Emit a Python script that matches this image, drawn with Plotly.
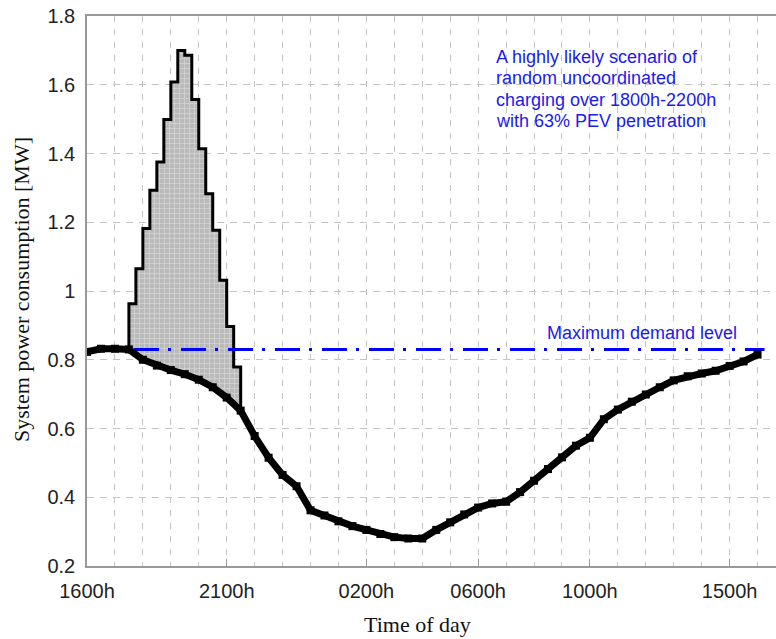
import plotly.graph_objects as go

# ---------------- data ----------------
# base system load (MW) at half-hour steps, 16:00 (=16) to 16:00 next day (=40)
base_time = [16.0, 16.5, 17.0, 17.5, 18.0, 18.5, 19.0, 19.5, 20.0, 20.5, 21.0, 21.5,
             22.0, 22.5, 23.0, 23.5, 24.0, 24.5, 25.0, 25.5, 26.0, 26.5, 27.0, 27.5,
             28.0, 28.5, 29.0, 29.5, 30.0, 30.5, 31.0, 31.5, 32.0, 32.5, 33.0, 33.5,
             34.0, 34.5, 35.0, 35.5, 36.0, 36.5, 37.0, 37.5, 38.0, 38.5, 39.0, 39.5, 40.0]
base_load = [0.823, 0.832, 0.832, 0.830, 0.800, 0.783, 0.770, 0.758, 0.742, 0.720, 0.690, 0.652,
             0.578, 0.515, 0.465, 0.432, 0.362, 0.347, 0.330, 0.316, 0.305, 0.293, 0.284, 0.280,
             0.280, 0.305, 0.327, 0.350, 0.370, 0.382, 0.387, 0.415, 0.448, 0.482, 0.516, 0.550,
             0.573, 0.627, 0.655, 0.678, 0.699, 0.720, 0.740, 0.752, 0.760, 0.768, 0.782, 0.795, 0.815]

# uncoordinated PEV charging: total load in 15-min blocks (block start times + final end)
pev_times = [17.5, 17.75, 18.0, 18.25, 18.5, 18.75, 19.0, 19.25, 19.5, 19.75,
             20.0, 20.25, 20.5, 20.75, 21.0, 21.25, 21.5]
pev_load = [0.963, 1.065, 1.182, 1.293, 1.375, 1.499, 1.608, 1.700,
            1.686, 1.557, 1.414, 1.283, 1.177, 1.031, 0.897, 0.779]

max_demand = 0.83
max_demand_span = [16.0, 40.25]

tick_vals = [16, 21, 26, 30, 34, 39]
tick_text = ["1600h", "2100h", "0200h", "0600h", "1000h", "1500h"]
y_vals = [0.2, 0.4, 0.6, 0.8, 1.0, 1.2, 1.4, 1.6, 1.8]
y_text = ["0.2", "0.4", "0.6", "0.8", "1", "1.2", "1.4", "1.6", "1.8"]

note_lines = ["A highly likely scenario of", "random uncoordinated",
              "charging over 1800h-2200h", "with 63% PEV penetration"]

# ---------------- figure ----------------
i0 = base_time.index(pev_times[0])
i1 = base_time.index(pev_times[-1])
seg_t = base_time[i0:i1 + 1]
seg_v = base_load[i0:i1 + 1]

step_x = [pev_times[0]] + pev_times[:-1] + [pev_times[-1]]
step_y = [base_load[i0]] + pev_load + [base_load[i1]]

fig = go.Figure()
fig.add_trace(go.Scatter(x=seg_t, y=seg_v, mode="lines", line=dict(width=0, color="black"),
                         showlegend=False, hoverinfo="skip"))
fig.add_trace(go.Scatter(x=step_x, y=step_y, mode="lines", line=dict(color="black", width=3, shape="hv"),
                         fill="tonexty", fillcolor="#c2c2c2",
                         fillpattern=dict(shape="+", size=5, solidity=0.25, fgcolor="#f4f4f4",
                                          bgcolor="#bababa"),
                         showlegend=False))
fig.add_trace(go.Scatter(x=max_demand_span, y=[max_demand, max_demand], mode="lines",
                         line=dict(color="#0000ff", width=3, dash="25px,9px,3px,10px"),
                         showlegend=False))
fig.add_trace(go.Scatter(x=base_time, y=base_load, mode="lines+markers",
                         line=dict(color="black", width=7),
                         marker=dict(symbol="square", size=8, color="black"),
                         showlegend=False))

grid_col = "#c4c4c4"
fig.update_xaxes(range=[16, 40.66], tickmode="array", tickvals=tick_vals, ticktext=tick_text,
                 showgrid=True, gridcolor=grid_col, griddash="6px,7px", gridwidth=1,
                 minor=dict(tick0=16, dtick=1, showgrid=True, gridcolor=grid_col,
                            griddash="6px,7px", gridwidth=1),
                 ticks="inside", ticklen=7, tickcolor="#999", showline=True, linecolor="#999",
                 linewidth=1.5, mirror=True, zeroline=False,
                 tickfont=dict(family="Liberation Sans, Arial", size=20, color="#222"),
                 ticklabelstandoff=6)
fig.update_yaxes(range=[0.2, 1.8], tickmode="array", tickvals=y_vals, ticktext=y_text,
                 showgrid=True, gridcolor=grid_col, griddash="7px,6px", gridwidth=1,
                 ticks="", showline=True, linecolor="#999", linewidth=1.5, mirror=False,
                 zeroline=False,
                 tickfont=dict(family="Liberation Sans, Arial", size=20, color="#222"),
                 ticklabelstandoff=6)

annotations = [
    dict(text="Time of day", xref="paper", yref="paper", x=0.480, y=-0.107,
         showarrow=False, font=dict(family="Liberation Serif, Times New Roman", size=22, color="#111"),
         xanchor="center", yanchor="middle"),
    dict(text="System power consumption [MW]", xref="paper", yref="paper", x=-0.0943, y=0.502,
         textangle=-90, showarrow=False,
         font=dict(family="Liberation Serif, Times New Roman", size=22, color="#111"),
         xanchor="center", yanchor="middle"),
    dict(text="Maximum demand level", x=35.85, y=0.878, showarrow=False,
         font=dict(family="Liberation Sans, Arial", size=18, color="#1a1aee"),
         xanchor="center", yanchor="middle"),
]
note_y = [1.681, 1.620, 1.556, 1.495]
for line, yy in zip(note_lines, note_y):
    annotations.append(dict(text=line, x=30.57, y=yy, showarrow=False, xanchor="left",
                            yanchor="middle",
                            font=dict(family="Liberation Sans, Arial", size=18, color="#1a1aee")))

fig.update_layout(width=776, height=639, margin=dict(l=87, r=0, t=16, b=73),
                  plot_bgcolor="white", paper_bgcolor="white", annotations=annotations)

fig.write_html("out.html")
